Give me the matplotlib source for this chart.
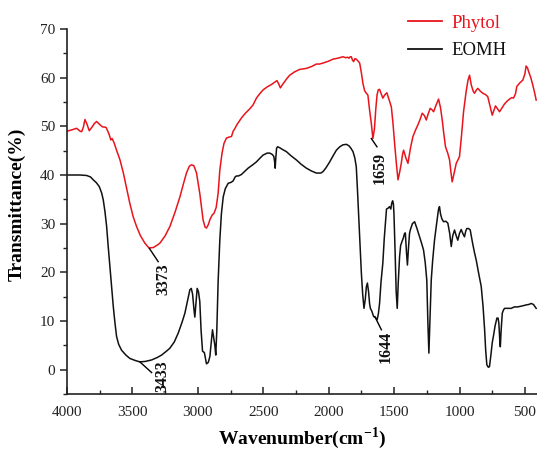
import matplotlib
matplotlib.use("Agg")
import matplotlib.pyplot as plt
from matplotlib.ticker import MultipleLocator
from matplotlib.lines import Line2D

plt.rcParams['font.family'] = ['Liberation Serif', 'DejaVu Serif']
plt.rcParams['mathtext.fontset'] = 'custom'
plt.rcParams['mathtext.rm'] = 'Liberation Serif'
plt.rcParams['mathtext.bf'] = 'Liberation Serif:bold'

# ---------------- data ----------------
phytol_wn = [4000, 3960, 3926, 3900, 3888, 3875, 3863, 3848, 3830, 3810, 3790, 3773, 3755, 3730, 3702,
             3680, 3665, 3655, 3640, 3620, 3595, 3570, 3544, 3520, 3494, 3468, 3440, 3405, 3373, 3340,
             3310, 3290, 3250, 3214, 3175, 3137, 3110, 3087, 3065, 3048, 3030, 3010, 2985, 2960, 2945,
             2934, 2920, 2908, 2890, 2877, 2860, 2845, 2832, 2815, 2800, 2781, 2760, 2743, 2730, 2718,
             2700, 2667, 2640, 2603, 2578, 2552, 2530, 2501, 2470, 2437, 2410, 2395, 2380, 2369, 2355,
             2336, 2320, 2298, 2260, 2221, 2195, 2170, 2130, 2094, 2070, 2043, 2000, 1967, 1930, 1891,
             1870, 1855, 1845, 1835, 1827, 1818, 1809, 1800, 1789, 1775, 1763, 1750, 1738, 1725, 1712,
             1700, 1688, 1674, 1662, 1650, 1640, 1630, 1621, 1611, 1600, 1586, 1570, 1555, 1545, 1535,
             1521, 1508, 1496, 1483, 1470, 1458, 1445, 1435, 1427, 1410, 1394, 1375, 1356, 1335, 1318,
             1300, 1285, 1268, 1254, 1240, 1224, 1210, 1198, 1180, 1160, 1145, 1132, 1120, 1107, 1090,
             1076, 1065, 1056, 1040, 1025, 1010, 1000, 985, 969, 950, 935, 923, 910, 895, 885,
             870, 860, 840, 822, 800, 784, 765, 750, 738, 725, 710, 694, 675, 656, 635,
             618, 600, 587, 572, 562, 540, 516, 500, 491, 480, 471, 455, 440, 425, 414]
phytol_t = [49.0, 49.3, 49.6, 49.0, 48.9, 49.8, 51.4, 50.5, 49.1, 49.8, 50.6, 51.0, 50.5, 49.9, 49.8,
            48.5, 47.2, 47.5, 46.6, 45.0, 43.1, 40.5, 37.2, 34.2, 31.4, 29.4, 27.6, 26.0, 25.0, 25.1,
            25.6, 26.0, 27.5, 29.4, 32.3, 35.5, 38.2, 40.4, 41.8, 42.1, 41.9, 40.4, 36.2, 30.8, 29.3,
            29.1, 29.8, 30.8, 31.8, 32.1, 33.3, 36.2, 41.0, 44.5, 46.5, 47.6, 47.8, 47.9, 49.0, 49.5,
            50.4, 51.7, 52.6, 53.6, 54.4, 55.8, 56.6, 57.5, 58.1, 58.6, 59.1, 59.4, 58.6, 57.9, 58.5,
            59.2, 59.8, 60.5, 61.2, 61.7, 61.8, 61.9, 62.3, 62.8, 62.8, 63.0, 63.4, 63.8, 64.0, 64.3,
            64.1, 64.2, 64.0, 64.3, 64.3, 63.6, 63.3, 63.9, 63.8, 63.4, 63.0, 61.0, 58.8, 57.3, 56.8,
            56.4, 53.5, 50.6, 47.5, 49.5, 53.5, 56.5, 57.5, 57.6, 56.8, 55.8, 56.5, 56.9, 56.0, 55.2,
            54.0, 50.5, 46.5, 42.5, 39.0, 40.5, 42.4, 44.3, 45.1, 43.5, 42.4, 45.5, 47.9, 49.3, 50.3,
            51.5, 52.7, 52.2, 51.3, 52.5, 53.7, 53.4, 53.0, 54.3, 55.6, 53.8, 51.3, 48.5, 45.8, 44.5,
            43.1, 40.5, 38.6, 40.5, 42.4, 43.2, 43.8, 48.0, 53.0, 57.0, 59.5, 60.5, 58.5, 57.2, 56.8,
            57.5, 57.8, 57.2, 56.8, 56.5, 56.1, 54.0, 52.3, 53.2, 54.2, 53.6, 53.0, 53.8, 54.6, 55.2,
            55.6, 55.9, 55.8, 56.7, 58.2, 58.9, 59.5, 60.8, 62.4, 62.0, 61.2, 60.0, 58.5, 56.8, 55.4]

eomh_wn = [4000, 3900, 3850, 3820, 3799, 3775, 3753, 3735, 3723, 3710, 3697, 3685, 3672, 3659, 3646,
           3633, 3621, 3605, 3583, 3550, 3519, 3480, 3443, 3400, 3353, 3310, 3277, 3240, 3214, 3180,
           3150, 3120, 3099, 3080, 3061, 3050, 3040, 3030, 3023, 3015, 3005, 2995, 2985, 2975, 2964,
           2950, 2940, 2934, 2920, 2908, 2898, 2888, 2878, 2870, 2863, 2855, 2845, 2832, 2820, 2806,
           2790, 2768, 2745, 2730, 2715, 2705, 2690, 2667, 2640, 2616, 2580, 2552, 2520, 2501, 2470,
           2450, 2430, 2419, 2412, 2409, 2404, 2398, 2390, 2374, 2350, 2323, 2290, 2247, 2210, 2170,
           2130, 2094, 2060, 2043, 2020, 1992, 1965, 1941, 1915, 1891, 1865, 1845, 1830, 1814, 1800,
           1789, 1780, 1768, 1758, 1750, 1740, 1730, 1720, 1712, 1704, 1695, 1687, 1681, 1670, 1656,
           1647, 1629, 1620, 1611, 1600, 1586, 1575, 1565, 1558, 1545, 1535, 1525, 1518, 1511, 1505,
           1501, 1492, 1484, 1476, 1468, 1458, 1450, 1440, 1430, 1420, 1414, 1405, 1398, 1390, 1382,
           1376, 1360, 1343, 1325, 1305, 1290, 1275, 1262, 1250, 1242, 1234, 1226, 1216, 1205, 1191,
           1175, 1160, 1153, 1145, 1135, 1122, 1105, 1089, 1075, 1063, 1052, 1038, 1025, 1013, 1000,
           987, 975, 962, 952, 944, 930, 918, 900, 885, 872, 855, 834, 820, 808, 800,
           791, 780, 771, 760, 750, 740, 728, 714, 705, 699, 692, 688, 682, 673, 665,
           656, 630, 605, 580, 554, 520, 491, 470, 452, 435, 425, 414]
eomh_t = [40.0, 40.0, 39.9, 39.6, 39.0, 38.4, 37.6, 36.3, 34.9, 32.5, 29.4, 25.3, 21.2, 17.0, 12.9,
          9.5, 6.8, 5.2, 4.0, 3.0, 2.3, 1.9, 1.6, 1.7, 2.0, 2.5, 3.0, 3.8, 4.4, 5.7,
          7.5, 9.8, 11.6, 14.0, 16.4, 16.7, 15.5, 12.5, 10.8, 13.5, 16.7, 16.0, 14.0, 8.0, 3.8,
          3.5, 2.0, 1.2, 1.5, 2.7, 5.5, 8.2, 6.5, 5.0, 3.0, 8.0, 18.0, 26.6, 32.0, 35.5,
          37.2, 38.3, 38.5, 38.8, 39.6, 39.8, 39.8, 40.1, 40.8, 41.4, 42.1, 42.7, 43.6, 44.1, 44.5,
          44.5, 44.2, 43.8, 42.5, 41.4, 43.5, 45.5, 45.8, 45.6, 45.2, 44.8, 44.0, 43.1, 42.2, 41.4,
          40.8, 40.4, 40.4, 40.7, 41.5, 42.7, 44.0, 45.1, 45.8, 46.2, 46.3, 46.0, 45.5, 44.8, 43.5,
          41.7, 37.0, 30.1, 24.0, 19.8, 15.5, 12.6, 14.5, 17.0, 17.8, 16.0, 13.5, 12.6, 12.0, 10.9,
          10.8, 10.3, 11.5, 13.6, 18.0, 21.9, 27.0, 30.5, 33.0, 33.2, 33.5, 33.0, 34.2, 34.7, 34.0,
          32.1, 24.0, 16.0, 12.6, 18.0, 23.2, 25.5, 26.3, 27.0, 28.0, 28.1, 24.0, 21.5, 25.0, 28.0,
          28.7, 30.0, 30.4, 29.0, 27.3, 26.0, 24.6, 22.0, 18.4, 10.0, 3.4, 10.0, 18.4, 22.5, 26.6,
          30.0, 33.0, 33.5, 32.0, 31.0, 30.4, 30.5, 30.1, 28.0, 25.3, 27.5, 28.7, 27.5, 26.6, 28.0,
          28.8, 28.0, 27.3, 28.5, 29.0, 29.0, 28.7, 26.0, 24.0, 22.5, 20.0, 17.1, 13.0, 8.2, 4.0,
          1.0, 0.5, 0.6, 3.0, 5.5, 7.0, 9.0, 10.6, 10.6, 9.5, 6.0, 4.7, 8.0, 11.6, 12.2,
          12.6, 12.6, 12.6, 12.9, 12.9, 13.1, 13.3, 13.4, 13.6, 13.4, 13.0, 12.6]

series_names = ["Phytol", "EOMH"]
series_colors = ["#e8141c", "#111111"]

peak_labels = ["3373", "3433", "1659", "1644"]
# (start point on curve, end point of leader, text position)
peak_leaders = [((3370, 24.9), (3303, 22.2), (3262, 18.6)),
                ((3443, 1.6), (3353, -0.6), (3270, -1.4)),
                ((1674, 47.5), (1631, 45.8), (1611, 41.5)),
                ((1647, 10.9), (1597, 8.2), (1565, 4.7))]

# ---------------- figure ----------------
fig = plt.figure(figsize=(5.37, 4.51), dpi=100)
ax = fig.add_axes([67/537, 57/451, (538 - 67)/537, (394 - 29)/451])

ax.plot(phytol_wn, phytol_t, color=series_colors[0], lw=1.1)
ax.plot(eomh_wn, eomh_t, color=series_colors[1], lw=1.1)

for lab, (p0, p1, pt) in zip(peak_labels, peak_leaders):
    ax.plot([p0[0], p1[0]], [p0[1], p1[1]], color='black', lw=1.0)
    ax.text(pt[0], pt[1], lab, rotation=90, ha='center', va='center',
            fontsize=11.5, fontweight='bold', color='#111111')

ax.set_xlim(4000, 400)
ax.set_ylim(-5, 70)
ax.xaxis.set_major_locator(MultipleLocator(500))
ax.xaxis.set_minor_locator(MultipleLocator(250))
ax.yaxis.set_major_locator(MultipleLocator(10))
ax.yaxis.set_minor_locator(MultipleLocator(5))

for s in ['top', 'right']:
    ax.spines[s].set_visible(False)
for s in ['left', 'bottom']:
    ax.spines[s].set_linewidth(1.2)
    ax.spines[s].set_color('#222222')

ax.tick_params(axis='y', which='major', direction='out', length=5, width=1.1,
               labelsize=11, colors='#222222')
ax.tick_params(axis='y', which='minor', direction='out', length=3, width=1.0, colors='#222222')
ax.tick_params(axis='x', which='major', direction='in', length=5, width=1.1,
               labelsize=11, colors='#222222', pad=9)
ax.tick_params(axis='x', which='minor', direction='in', length=3, width=1.0, colors='#222222')

ax.set_xlabel(r'Wavenumber(cm$^{\mathbf{-1}}$)', fontsize=14, fontweight='bold', labelpad=4)
ax.set_ylabel('Transmittance(%)', fontsize=14, fontweight='bold')
ax.yaxis.set_label_coords(-0.087, 0.52)

handles = [Line2D([], [], color=c, lw=1.3) for c in series_colors]
leg = fig.legend(handles, series_names, loc='upper left', bbox_to_anchor=(408/537, 0.967),
                 frameon=False, fontsize=13.5, handlelength=1.8, handletextpad=0.5,
                 labelspacing=0.55, borderpad=0, borderaxespad=0)
for t, c in zip(leg.get_texts(), series_colors):
    t.set_color(c)

fig.savefig("out.png", dpi=100)
